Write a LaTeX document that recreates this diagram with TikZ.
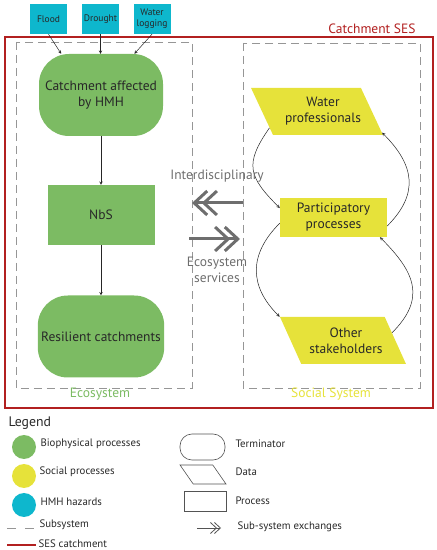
\documentclass[tikz,border=0pt]{standalone}
\usepackage{fontspec}
\setmainfont{PT Sans}
\usetikzlibrary{shapes.geometric,arrows.meta}
\definecolor{bioGreen}{RGB}{124,187,99}
\definecolor{socYellow}{RGB}{230,226,58}
\definecolor{hmhBlue}{RGB}{14,183,205}
\definecolor{sesRed}{RGB}{178,32,32}
\definecolor{dashGray}{RGB}{150,150,150}
\definecolor{arrGray}{RGB}{110,110,110}
\definecolor{txtGray}{RGB}{40,40,40}
\begin{document}
\begin{tikzpicture}[x=1pt, y=1pt, >=stealth, font=\fontsize{13.5}{16}\selectfont,
  termshape/.style={rectangle, rounded corners=30pt, fill=bioGreen, minimum width=124pt, minimum height=82pt, align=center, text=txtGray},
  procbox/.style={rectangle, fill=#1, minimum width=107pt, align=center, text=txtGray},
  datashape/.style={trapezium, trapezium left angle=128, trapezium right angle=52, trapezium stretches=true, fill=socYellow, minimum width=127pt, minimum height=47pt, inner sep=0pt, align=center, text=txtGray},
  hazard/.style={rectangle, fill=hmhBlue, minimum width=37pt, minimum height=30pt, inner sep=1pt, align=center, text=txtGray, font=\fontsize{9.5}{11}\selectfont},
  subsys/.style={draw=dashGray, dash pattern=on 8pt off 5pt, line width=0.8pt},
  xchange/.style={draw=arrGray, line width=3pt, -{Straight Barb[length=13pt,width=24pt,sep=-7pt]Straight Barb[length=13pt,width=24pt]}},
  link/.style={->, draw=black!85, line width=0.5pt},
  lgtext/.style={anchor=west, text=txtGray, font=\fontsize{10.8}{12}\selectfont},
  lgshape/.style={draw=txtGray!80, line width=0.6pt}
]
\useasboundingbox (0,0) rectangle (437,550);

% catchment frame and sub-systems
\draw[sesRed, line width=2pt] (5,513) rectangle (433,142);
\node[anchor=south east, text=sesRed] (sestitle) at (419,513) {Catchment SES};
\draw[subsys] (16,508) rectangle (192,162);
\draw[subsys] (243,507) rectangle (420,162);
\node[text=bioGreen] (ecolbl) at (100,156) {Ecosystem};
\node[text=socYellow] (soclbl) at (331,156) {Social System};

% hazards
\node[hazard] (flood) at (48.5,531) {Flood};
\node[hazard] (drought) at (100.5,531) {Drought};
\node[hazard] (wlog) at (152,531) {Water\\logging};

% ecosystem
\node[termshape] (affected) at (101,455) {Catchment affected\\by HMH};
\node[procbox=bioGreen, minimum height=60pt] (nbs) at (101,335) {NbS};
\node[termshape] (resilient) at (101,213.5) {Resilient catchments};

\draw[link] (flood.south) -- (affected.134);
\draw[link] (drought.south) -- (drought.south |- affected.north);
\draw[link] (wlog.south) -- (affected.51);
\draw[link] (affected.south) -- (nbs.north);
\draw[link] (nbs.south) -- (resilient.north);

% social system
\node[datashape] (waterpro) at (317,438.5) {\hspace*{12pt}Water\\\hspace*{12pt}professionals};
\node[procbox=socYellow, minimum height=39pt] (partic) at (333.5,332.5) {Participatory\\processes};
\node[datashape, minimum width=126pt] (others) at (343,209.5) {\hspace*{6pt}Other\\\hspace*{6pt}stakeholders};

\draw[link] (waterpro.199) to[out=235, in=135, looseness=1.4] (partic.170);
\draw[link] (partic.351) to[out=45, in=-45, looseness=1.25] (waterpro.-18);
\draw[link] (partic.186) to[out=225, in=135, looseness=1.2] (others.top left corner);
\draw[link] (others.9) to[out=45, in=-45, looseness=1.3] (partic.-23);

% exchanges
\coordinate (ixL) at (192,347);
\coordinate (ixR) at (243,347);
\coordinate (esL) at (189,311);
\coordinate (esR) at (240,311);
\draw[xchange] (ixR) -- (ixL);
\draw[xchange] (esL) -- (esR);
\node[text=arrGray] (interlbl) at (217,374) {Interdisciplinary};
\node[text=arrGray, align=center] (eslbl) at (217,280) {Ecosystem\\services};

% legend
\node[anchor=west, text=txtGray, font=\fontsize{13.8}{15}\selectfont] (legtitle) at (5,127) {Legend};
\node[circle, fill=bioGreen, minimum size=24pt, inner sep=0pt] (lgbio) at (24,103) {};
\node[circle, fill=socYellow, minimum size=24pt, inner sep=0pt] (lgsoc) at (24,74) {};
\node[circle, fill=hmhBlue, minimum size=24pt, inner sep=0pt] (lghmh) at (24,45) {};
\node[lgtext] (lgbiotxt) at (37,106) {Biophysical processes};
\node[lgtext] (lgsoctxt) at (36,78) {Social processes};
\node[lgtext] (lghmhtxt) at (37,48) {HMH hazards};
\coordinate (lgsubA) at (7,22);
\coordinate (lgsubB) at (34,22);
\draw[dashGray, line width=0.8pt, dash pattern=on 9pt off 9pt] (lgsubA) -- (lgsubB);
\node[lgtext] (lgsubtxt) at (36,25) {Subsystem};
\coordinate (lgsesA) at (7,5);
\coordinate (lgsesB) at (36,5);
\draw[sesRed, line width=2pt] (lgsesA) -- (lgsesB);
\node[lgtext] (lgsestxt) at (35,6) {SES catchment};

\node[lgshape, rectangle, rounded corners=12pt, minimum width=45pt, minimum height=26pt] (lgterm) at (202.5,103) {};
\node[lgshape, trapezium, trapezium left angle=124, trapezium right angle=56, trapezium stretches=true, minimum width=46pt, minimum height=19pt] (lgdata) at (203,75.5) {};
\node[lgshape, rectangle, minimum width=42pt, minimum height=20pt] (lgproc) at (205,49) {};
\coordinate (lgxA) at (197,22);
\coordinate (lgxB) at (221,22);
\draw[draw=txtGray!80, line width=0.8pt, -{Straight Barb[length=6pt,width=11pt,sep=-3pt]Straight Barb[length=6pt,width=11pt]}] (lgxA) -- (lgxB);
\node[lgtext] (lgtermtxt) at (232,106) {Terminator};
\node[lgtext] (lgdatatxt) at (232,78) {Data};
\node[lgtext] (lgproctxt) at (232,49) {Process};
\node[lgtext] (lgxtxt) at (234,23) {Sub-system exchanges};
\end{tikzpicture}
\end{document}
